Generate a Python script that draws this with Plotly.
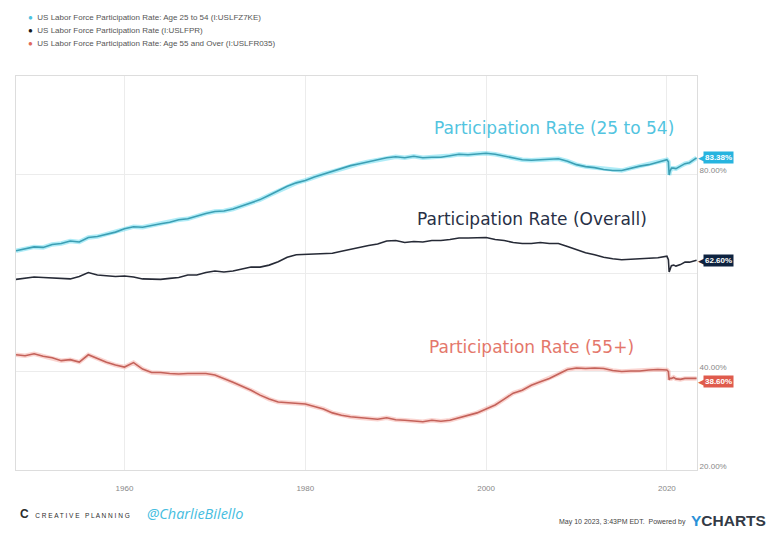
import plotly.graph_objects as go

# ---------------- data ----------------
years = list(range(1948, 2020))
tail_dates = ["2020-01-01", "2020-03-01", "2020-04-01", "2020-05-01", "2020-07-01", "2020-10-01",
              "2021-01-01", "2021-07-01", "2022-01-01", "2022-07-01", "2023-01-01", "2023-04-15"]
dates = [f"{y}-01-01" for y in years] + tail_dates

prime_age = [64.5, 64.9, 65.3, 65.2, 65.8, 66.0, 66.5, 66.3, 67.2, 67.4,
             67.9, 68.3, 69.0, 69.4, 69.3, 69.7, 70.0, 70.3, 70.8, 71.0,
             71.6, 72.1, 72.5, 72.6, 73.0, 73.6, 74.3, 74.9, 75.8, 76.7,
             77.6, 78.3, 78.8, 79.5, 80.1, 80.6, 81.2, 81.8, 82.2, 82.6,
             83.0, 83.4, 83.6, 83.4, 83.7, 83.4, 83.5, 83.5, 83.8, 84.1,
             84.0, 84.2, 84.3, 84.1, 83.7, 83.3, 83.0, 82.9, 83.0, 83.2,
             83.2, 82.7, 82.0, 81.6, 81.4, 81.0, 80.8, 80.8, 81.3, 81.7,
             82.0, 82.5,
             83.0, 82.6, 79.9, 80.6, 81.3, 81.3, 81.2, 81.7, 82.2, 82.4, 83.1, 83.38]

overall = [58.7, 58.9, 59.2, 59.1, 59.0, 58.8, 58.8, 59.3, 60.1, 59.6,
           59.5, 59.3, 59.4, 59.2, 58.8, 58.7, 58.7, 58.9, 59.1, 59.6,
           59.6, 60.1, 60.4, 60.2, 60.4, 60.8, 61.2, 61.2, 61.6, 62.3,
           63.2, 63.7, 63.8, 63.9, 64.0, 64.0, 64.4, 64.8, 65.3, 65.6,
           65.9, 66.5, 66.6, 66.2, 66.4, 66.3, 66.6, 66.6, 66.8, 67.1,
           67.1, 67.1, 67.2, 66.8, 66.6, 66.2, 66.0, 66.0, 66.2, 66.0,
           66.0, 65.4, 64.7, 64.1, 63.7, 63.2, 62.9, 62.7, 62.8, 62.9,
           62.9, 63.1,
           63.4, 62.7, 60.2, 60.8, 61.5, 61.6, 61.4, 61.7, 62.2, 62.2, 62.4, 62.6]

age_55_over = [43.4, 43.2, 43.6, 43.1, 42.8, 42.2, 42.4, 41.9, 43.4, 42.6,
               41.9, 41.3, 40.9, 41.8, 40.5, 39.8, 39.8, 39.6, 39.5, 39.6,
               39.6, 39.6, 39.3, 38.6, 37.8, 37.0, 36.2, 35.2, 34.4, 33.8,
               33.7, 33.6, 33.4, 32.9, 32.4, 31.6, 31.1, 30.8, 30.6, 30.5,
               30.3, 30.6, 30.2, 30.1, 30.0, 29.8, 30.1, 29.9, 30.1, 30.6,
               31.0, 31.6, 32.4, 33.2, 34.4, 35.6, 36.2, 37.2, 37.9, 38.6,
               39.5, 40.4, 40.7, 40.6, 40.7, 40.6, 40.2, 40.0, 40.1, 40.1,
               40.3, 40.4,
               40.3, 40.0, 38.3, 38.6, 38.6, 38.8, 38.5, 38.4, 38.6, 38.6, 38.6, 38.6]

legend_labels = ["US Labor Force Participation Rate: Age 25 to 54 (I:USLFZ7KE)",
                 "US Labor Force Participation Rate (I:USLFPR)",
                 "US Labor Force Participation Rate: Age 55 and Over (I:USLFR035)"]
callouts = ["Participation Rate (25 to 54)", "Participation Rate (Overall)", "Participation Rate (55+)"]
y_tickvals = [20, 40, 60, 80]
y_ticktext = ["20.00%", "40.00%", "", "80.00%"]

# ---------------- styling ----------------
W, H = 771, 533
L, R, T, B = 16, 74, 76, 63
PW, PH = W - L - R, H - T - B

def pxx(x):
    return (x - L) / PW

def pxy(y):
    return (H - B - y) / PH

series = [
    (prime_age, "#3c9fb4", "rgba(110,220,240,0.55)", "#27b4df", "#52c4df", 0),
    (overall, "#262a36", None, "#0e2340", "#283046", 0),
    (age_55_over, "#c4625a", "rgba(245,160,150,0.45)", "#df5b4d", "#e4776b", -3),
]

fig = go.Figure()
for vals, core, halo, box, _, _ in series:
    if halo:
        fig.add_trace(go.Scatter(x=dates, y=vals, mode="lines",
                                 line=dict(color=halo, width=4.5), hoverinfo="skip", showlegend=False))
    fig.add_trace(go.Scatter(x=dates, y=vals, mode="lines",
                             line=dict(color=core, width=1.6), showlegend=False))

annotations = []
# legend
legend_dot_colors = ["#4cc3df", "#1a1a1a", "#e06a5a"]
for i, (lbl, c) in enumerate(zip(legend_labels, legend_dot_colors)):
    annotations.append(dict(xref="paper", yref="paper", x=pxx(26), y=pxy(17 + 13.5 * i),
                            xanchor="left", yanchor="middle", showarrow=False,
                            text=f"<span style='color:{c}'>●</span>  {lbl}",
                            font=dict(family="Liberation Sans, Arial", size=8, color="#555")))

# hand-written callouts
callout_pos = [(554, 128), (532, 219), (531, 347)]
for txt, (cx, cy), s in zip(callouts, callout_pos, series):
    annotations.append(dict(xref="paper", yref="paper", x=pxx(cx), y=pxy(cy),
                            xanchor="center", yanchor="middle", showarrow=False, text=txt,
                            font=dict(family="DejaVu Sans", size=17, color=s[4])))

# end-value boxes
for vals, core, halo, box, _, ys in series:
    last = vals[-1]
    annotations.append(dict(xref="x", yref="y", x=dates[-1], y=last, xanchor="left",
                            yanchor="middle", showarrow=False, xshift=-1, yshift=ys, text="◀",
                            font=dict(size=9, color=box)))
    annotations.append(dict(xref="x", yref="y", x=dates[-1], y=last, xanchor="left",
                            yanchor="middle", showarrow=False, xshift=6, yshift=ys,
                            text=f"<b>{last:.2f}%</b>", bgcolor=box, borderpad=1,
                            font=dict(family="Liberation Sans, Arial", size=8, color="white")))

# footer
annotations.append(dict(xref="paper", yref="paper", x=pxx(18), y=pxy(514), xanchor="left",
                        yanchor="middle", showarrow=False,
                        text="<b>C</b>  <span style='font-size:6.5px'>C R E A T I V E   P L A N N I N G</span>",
                        font=dict(family="Liberation Sans, Arial", size=12, color="#2c2c2c")))
annotations.append(dict(xref="paper", yref="paper", x=pxx(145), y=pxy(513), xanchor="left",
                        yanchor="middle", showarrow=False, text="<i>@CharlieBilello</i>",
                        font=dict(family="Open Sans", size=14.5, color="#45bde0")))
annotations.append(dict(xref="paper", yref="paper", x=pxx(688), y=pxy(522), xanchor="right",
                        yanchor="middle", showarrow=False,
                        text="May 10 2023, 3:43PM EDT.  Powered by",
                        font=dict(family="Liberation Sans, Arial", size=7, color="#444")))
annotations.append(dict(xref="paper", yref="paper", x=pxx(689), y=pxy(520), xanchor="left",
                        yanchor="middle", showarrow=False,
                        text="<b><span style='color:#2a91d8'>Y</span>CHARTS</b>",
                        font=dict(family="Liberation Sans, Arial", size=15.5, color="#333a45")))

fig.update_layout(
    width=W, height=H,
    margin=dict(l=L, r=R, t=T, b=B),
    paper_bgcolor="white", plot_bgcolor="white",
    annotations=annotations,
    showlegend=False,
    xaxis=dict(type="date", range=["1948-01-01", "2023-05-01"],
               tick0="1960-01-01", dtick="M240", tickformat="%Y",
               showgrid=True, gridcolor="#ececec", gridwidth=1,
               showline=True, linecolor="#dddddd", mirror=True,
               ticks="", ticklabelstandoff=10,
               tickfont=dict(family="Liberation Sans, Arial", size=8, color="#888"),
               zeroline=False),
    yaxis=dict(range=[20, 100], side="right", tickvals=y_tickvals, ticktext=y_ticktext,
               showgrid=True, gridcolor="#ececec", gridwidth=1,
               showline=True, linecolor="#dddddd", mirror=True,
               ticks="", ticklabelshift=-4,
               tickfont=dict(family="Liberation Sans, Arial", size=8, color="#888"),
               zeroline=False),
)

fig.write_html("out.html")
